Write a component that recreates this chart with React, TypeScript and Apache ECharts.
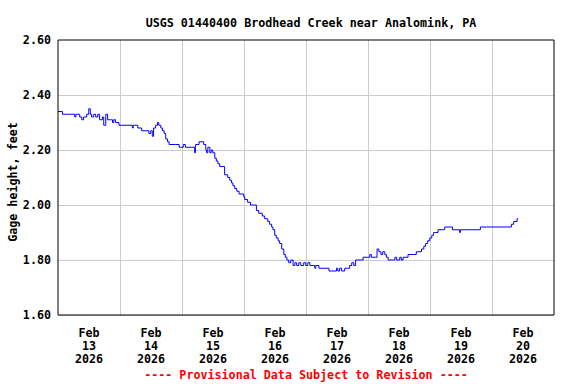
import React, { useEffect, useRef } from "react";
import * as echarts from "echarts";

const titleText = "USGS 01440400 Brodhead Creek near Analomink, PA";
const footerText = "---- Provisional Data Subject to Revision ----";
const yAxisName = "Gage height, feet";
const dayLabels = ["Feb\n13\n2026", "Feb\n14\n2026", "Feb\n15\n2026", "Feb\n16\n2026", "Feb\n17\n2026", "Feb\n18\n2026", "Feb\n19\n2026", "Feb\n20\n2026"];

// hours since 2026-02-13 00:00
const hoursSinceStart = [
  0, 1.7, 6.5, 6.9, 8.4, 9.2, 9.9, 11.1, 11.9, 12.5, 13.0, 13.8, 14.6, 15.4, 16.1, 17.2, 17.7, 18.5, 19.2, 20.4,
  21.1, 21.6, 22.3, 23.6, 28.8, 29.1, 30.9, 32.4, 35.2, 35.9, 36.5, 37.0, 37.8, 38.5, 39.0, 39.8, 40.4, 41.1, 41.7, 42.4,
  43.0, 45.6, 46.9, 48.5, 49.3, 52.9, 53.2, 53.3, 54.6, 56.4, 57.2, 57.5, 58.0, 58.8, 59.3, 59.9, 60.7, 61.3, 61.9, 62.6,
  63.7, 64.5, 65.7, 66.5, 67.2, 67.7, 68.4, 69.2, 70.1, 71.9, 72.3, 73.4, 74.5, 75.7, 76.8, 77.7, 79.1, 80.0, 81.2, 81.9,
  82.7, 83.2, 83.9, 84.5, 85.2, 85.8, 86.6, 87.4, 88.0, 88.6, 89.3, 90.1, 91.0, 91.7, 92.4, 93.2, 94.0, 95.1, 95.9, 96.7,
  97.5, 99.4, 99.8, 101.0, 104.9, 107.8, 108.3, 109.0, 109.8, 111.0, 112.9, 113.7, 114.5, 115.2, 118.1, 119.9, 120.7, 121.3, 123.0, 123.5,
  124.2, 125.0, 125.7, 126.5, 127.1, 127.8, 129.6, 130.4, 131.1, 132.3, 132.9, 133.6, 135.5, 137.7, 138.7, 140.7, 141.6, 142.3, 143.1, 143.9,
  144.7, 145.4, 146.2, 147.1, 149.7, 152.7, 155.5, 155.8, 163.5, 174.9, 175.5, 176.4, 177.7, 178.1
];

const gageHeight = [
  2.34, 2.33, 2.32, 2.33, 2.32, 2.31, 2.32, 2.33, 2.35, 2.33, 2.32, 2.33, 2.32, 2.33, 2.31, 2.32, 2.29, 2.33, 2.31, 2.31,
  2.30, 2.31, 2.30, 2.29, 2.28, 2.29, 2.28, 2.27, 2.26, 2.27, 2.25, 2.28, 2.29, 2.30, 2.29, 2.28, 2.27, 2.26, 2.24, 2.23,
  2.22, 2.22, 2.21, 2.22, 2.21, 2.19, 2.21, 2.22, 2.23, 2.22, 2.20, 2.19, 2.21, 2.19, 2.20, 2.19, 2.17, 2.16, 2.15, 2.14,
  2.14, 2.11, 2.10, 2.09, 2.08, 2.07, 2.06, 2.05, 2.04, 2.03, 2.02, 2.01, 2.00, 2.00, 1.98, 1.97, 1.96, 1.95, 1.94, 1.93,
  1.92, 1.91, 1.89, 1.88, 1.87, 1.86, 1.84, 1.82, 1.81, 1.80, 1.79, 1.80, 1.78, 1.79, 1.78, 1.79, 1.78, 1.79, 1.78, 1.79,
  1.78, 1.77, 1.78, 1.77, 1.76, 1.77, 1.76, 1.77, 1.76, 1.77, 1.78, 1.79, 1.78, 1.80, 1.81, 1.81, 1.82, 1.81, 1.81, 1.84,
  1.83, 1.82, 1.83, 1.82, 1.81, 1.80, 1.80, 1.81, 1.80, 1.81, 1.80, 1.81, 1.82, 1.82, 1.83, 1.84, 1.85, 1.86, 1.87, 1.88,
  1.89, 1.90, 1.90, 1.91, 1.92, 1.91, 1.90, 1.91, 1.92, 1.92, 1.93, 1.94, 1.95, 1.95
];

const FONT = "'DejaVu Sans Mono', 'Liberation Mono', monospace";

export default function App() {
  const ref = useRef<HTMLDivElement>(null);
  useEffect(() => {
    if (!ref.current) return;
    const chart = echarts.init(ref.current, null, { renderer: "svg" });
    const data = hoursSinceStart.map((h, i) => [h, gageHeight[i]]);
    chart.setOption({
      animation: false,
      backgroundColor: "#fff",
      title: {
        text: titleText,
        left: 306,
        top: 12,
        textAlign: "center",
        textStyle: { fontFamily: FONT, fontSize: 11.7, fontWeight: "bold", color: "#000" },
      },
      graphic: [
        {
          type: "text",
          x: 306,
          y: 375,
          style: {
            text: footerText,
            fill: "#ff0000",
            font: `bold 11.7px ${FONT}`,
            textAlign: "center",
            textVerticalAlign: "middle",
          },
        },
        {
          type: "text",
          x: 13,
          y: 182,
          rotation: Math.PI / 2,
          style: {
            text: yAxisName,
            fill: "#000",
            font: `bold 11.7px ${FONT}`,
            textAlign: "center",
            textVerticalAlign: "middle",
          },
        },
      ],
      grid: {
        left: 58,
        right: 22,
        top: 40,
        bottom: 69,
        containLabel: false,
        outerBoundsMode: "none",
        show: true,
        borderColor: "#000",
        borderWidth: 1,
        backgroundColor: "transparent",
        z: 10,
      },
      xAxis: [
        {
          type: "value",
          min: 0,
          max: 192,
          interval: 24,
          axisLine: { show: false },
          axisTick: { show: false },
          axisLabel: { show: false },
          splitLine: { show: true, showMinLine: false, showMaxLine: false, lineStyle: { color: "#cccccc", width: 1 } },
        },
        {
          type: "category",
          data: dayLabels,
          boundaryGap: true,
          position: "bottom",
          axisLine: { show: false },
          axisTick: { show: false },
          splitLine: { show: false },
          axisLabel: {
            interval: 0,
            margin: 11,
            fontFamily: FONT,
            fontSize: 11.7,
            fontWeight: "bold",
            color: "#000",
            lineHeight: 13,
          },
        },
      ],
      yAxis: {
        type: "value",
        min: 1.6,
        max: 2.6,
        interval: 0.2,
        axisLine: { show: false },
        axisTick: { show: false },
        axisLabel: {
          margin: 7,
          fontFamily: FONT,
          fontSize: 11.7,
          fontWeight: "bold",
          color: "#000",
          formatter: (v: number) => v.toFixed(2),
        },
        splitLine: { show: true, showMinLine: true, showMaxLine: false, lineStyle: { color: "#cccccc", width: 1 } },
      },
      series: [
        {
          type: "line",
          xAxisIndex: 0,
          data,
          step: "end",
          showSymbol: false,
          lineStyle: { color: "#0000ff", width: 1 },
          z: 5,
        },
      ],
    });
    return () => chart.dispose();
  }, []);
  return <div ref={ref} style={{ width: 576, height: 384, position: "absolute", left: 0, top: 0 }} />;
}
